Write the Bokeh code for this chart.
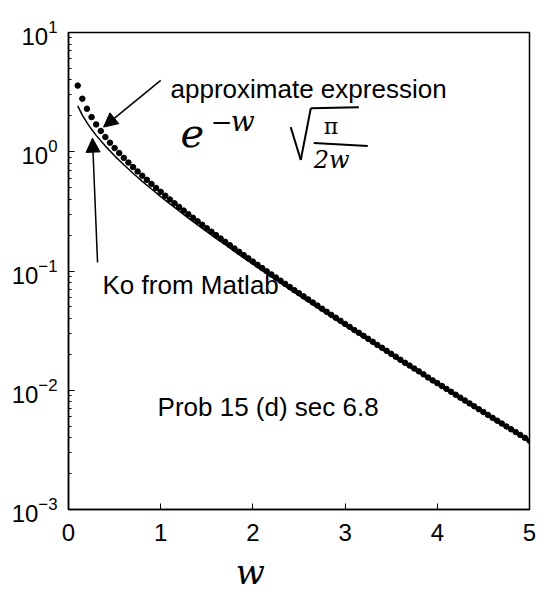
from bokeh.plotting import figure
from bokeh.models import Label, Arrow, NormalHead, FixedTicker
from bokeh.embed import file_html
from bokeh.resources import INLINE

# approximate expression  e^-w * sqrt(pi / 2w)  (dots)
w_dots = [0.10, 0.15, 0.20, 0.25, 0.30, 0.35, 0.40, 0.45, 0.50, 0.55,
          0.60, 0.65, 0.70, 0.75, 0.80, 0.85, 0.90, 0.95, 1.00, 1.05,
          1.10, 1.15, 1.20, 1.25, 1.30, 1.35, 1.40, 1.45, 1.50, 1.55,
          1.60, 1.65, 1.70, 1.75, 1.80, 1.85, 1.90, 1.95, 2.00, 2.05,
          2.10, 2.15, 2.20, 2.25, 2.30, 2.35, 2.40, 2.45, 2.50, 2.55,
          2.60, 2.65, 2.70, 2.75, 2.80, 2.85, 2.90, 2.95, 3.00, 3.05,
          3.10, 3.15, 3.20, 3.25, 3.30, 3.35, 3.40, 3.45, 3.50, 3.55,
          3.60, 3.65, 3.70, 3.75, 3.80, 3.85, 3.90, 3.95, 4.00, 4.05,
          4.10, 4.15, 4.20, 4.25, 4.30, 4.35, 4.40, 4.45, 4.50, 4.55,
          4.60, 4.65, 4.70, 4.75, 4.80, 4.85, 4.90, 4.95, 5.00]
approx_vals = [3.586, 2.785, 2.294, 1.952, 1.695, 1.493, 1.328, 1.191, 1.075, 0.975,
               0.888, 0.8115, 0.7439, 0.6836, 0.6296, 0.5810, 0.5372, 0.4973, 0.4611, 0.4280,
               0.3978, 0.3700, 0.3446, 0.3212, 0.2996, 0.2796, 0.2612, 0.2441, 0.2283, 0.2136,
               0.2000, 0.1873, 0.1756, 0.1646, 0.1544, 0.1449, 0.1360, 0.1277, 0.1199, 0.1127,
               0.1059, 0.0996, 0.0936, 0.0881, 0.0829, 0.0780, 0.0734, 0.0691, 0.0651, 0.0613,
               0.0578, 0.0544, 0.0513, 0.0483, 0.0455, 0.0429, 0.0405, 0.0382, 0.0360, 0.0340,
               0.0320, 0.0303, 0.0286, 0.0270, 0.0255, 0.0240, 0.0227, 0.0214, 0.0202, 0.0191,
               0.0180, 0.0170, 0.0161, 0.0152, 0.0144, 0.0136, 0.0128, 0.0121, 0.01148, 0.01085,
               0.01026, 0.00970, 0.00917, 0.00867, 0.00820, 0.00776, 0.00734, 0.00694, 0.00656, 0.00621,
               0.00587, 0.00556, 0.00526, 0.00497, 0.00471, 0.00446, 0.00422, 0.00399, 0.00378]

# Ko from Matlab (solid line)
w_line = [0.10, 0.15, 0.20, 0.25, 0.30, 0.4, 0.5, 0.6, 0.7, 0.8, 0.9, 1.0,
          1.1, 1.2, 1.3, 1.4, 1.5, 1.6, 1.7, 1.8, 1.9, 2.0,
          2.2, 2.4, 2.6, 2.8, 3.0, 3.2, 3.4, 3.6, 3.8, 4.0, 4.2, 4.4, 4.6, 4.8, 5.0]
k0_vals = [2.427, 2.030, 1.753, 1.542, 1.372, 1.115, 0.924, 0.778, 0.661, 0.565, 0.487, 0.421,
           0.366, 0.319, 0.278, 0.244, 0.214, 0.188, 0.166, 0.146, 0.129, 0.114,
           0.0893, 0.0702, 0.0554, 0.0438, 0.0347, 0.0276, 0.0220, 0.0175, 0.0140, 0.01116,
           0.00893, 0.00715, 0.00573, 0.00460, 0.00369]

x_ticks = [0, 1, 2, 3, 4, 5]
x_label = "w"

FONT = "Liberation Sans"
HW = "DejaVu Serif"

p = figure(width=540, height=594, y_axis_type="log", x_range=(0, 5), y_range=(1e-3, 10),
           output_backend="svg", toolbar_location=None,
           min_border_left=68, min_border_right=11, min_border_top=32, min_border_bottom=83)
p.background_fill_color = "white"
p.border_fill_color = "white"
p.xgrid.visible = False
p.ygrid.visible = False
p.outline_line_color = "black"
p.outline_line_width = 1.5

xa = p.xaxis[0]
xa.ticker = FixedTicker(ticks=x_ticks)
ya = p.yaxis[0]
for ax in (xa, ya):
    ax.axis_line_color = "black"
    ax.axis_line_width = 1.5
    ax.major_tick_in = 6
    ax.major_tick_out = 0
    ax.major_tick_line_color = "black"
    ax.major_label_text_font = FONT
    ax.major_label_text_font_size = "24px"
    ax.major_label_text_color = "black"
xa.major_label_standoff = 14
ya.major_label_standoff = 11
xa.minor_tick_line_color = None
ya.minor_tick_in = 3
ya.minor_tick_out = 0
ya.minor_tick_line_color = "black"

# x axis label, padded so that it sits left of the centre as in the original
xa.axis_label = x_label + "\u00a0" * 9
xa.axis_label_text_font = HW
xa.axis_label_text_font_style = "italic"
xa.axis_label_text_font_size = "34px"
xa.axis_label_text_color = "black"
xa.axis_label_standoff = 8

# data
p.line(w_line, k0_vals, line_color="black", line_width=1.5)
p.scatter(w_dots, approx_vals, size=5.5, fill_color="black", line_color="black", marker="circle")

# annotations
def lab(x, y, text, size="26px", style="normal", font=FONT, align="left", baseline="alphabetic"):
    p.add_layout(Label(x=x, y=y, text=text, text_font=font, text_font_size=size,
                       text_font_style=style, text_color="black", text_align=align,
                       text_baseline=baseline))

def seg(x0, y0, x1, y1, width=2):
    p.add_layout(Arrow(end=None, x_start=x0, y_start=y0, x_end=x1, y_end=y1,
                       line_color="black", line_width=width))

lab(1.107, 3.35, "approximate expression")
lab(0.369, 0.077, "Ko from Matlab")
lab(0.966, 0.00724, "Prob 15 (d) sec 6.8")

# handwritten formula  e^{-w} sqrt(pi / 2w)
lab(1.216, 1.462, "e", size="40px", style="italic", font=HW)
lab(1.542, 1.806, "\u2212", size="26px", font=HW)
lab(1.759, 1.806, "w", size="28px", style="italic", font=HW)
seg(2.410, 1.609, 2.519, 0.853)
seg(2.519, 0.853, 2.628, 2.319)
seg(2.628, 2.319, 3.149, 2.364)
seg(2.660, 1.183, 3.246, 1.117)
lab(2.769, 1.640, "\u03c0", size="22px", font=HW)
lab(2.660, 0.853, "2w", size="24px", style="italic", font=HW)

# arrows
p.add_layout(Arrow(end=NormalHead(size=14, fill_color="black", line_color="black"),
                   x_start=1.0, y_start=3.97, x_end=0.38, y_end=1.61,
                   line_color="black", line_width=1.5))
p.add_layout(Arrow(end=NormalHead(size=14, fill_color="black", line_color="black"),
                   x_start=0.315, y_start=0.118, x_end=0.26, y_end=1.30,
                   line_color="black", line_width=1.5))

open("out.html", "w").write(file_html(p, INLINE))
